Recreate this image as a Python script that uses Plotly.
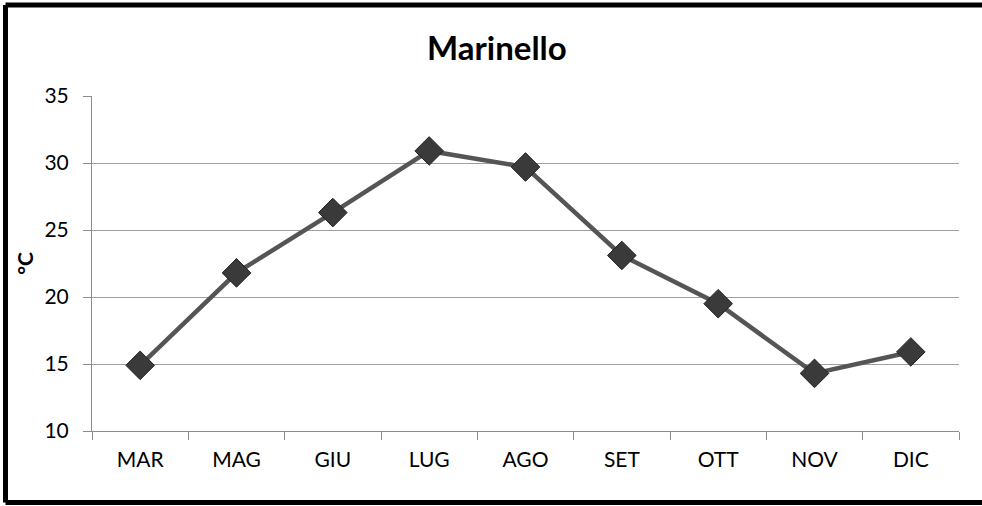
import plotly.graph_objects as go

months = ["MAR", "MAG", "GIU", "LUG", "AGO", "SET", "OTT", "NOV", "DIC"]
temps = [14.9, 21.8, 26.3, 30.9, 29.7, 23.1, 19.5, 14.3, 15.9]
y_ticks = [10, 15, 20, 25, 30, 35]
title_text = "Marinello"
y_title = "°C"

W, H = 982, 506
ml, mr, mt, mb = 92, 23, 96, 75
pw, ph = W - ml - mr, H - mt - mb

def px_x(x):
    return (x - ml) / pw

def px_y(y):
    return (H - mb - y) / ph

border = dict(color="#000000", width=5)
bx0, bx1, by0, by1 = px_x(5.5), px_x(1000), px_y(502.5), px_y(5)

fig = go.Figure()
fig.add_trace(go.Scatter(
    x=months, y=temps, mode="lines+markers",
    line=dict(color="#555555", width=4.5),
    marker=dict(symbol="diamond", size=22, color="#3a3a3a",
                line=dict(color="#222222", width=1)),
    showlegend=False,
))

fig.update_layout(
    width=W, height=H,
    margin=dict(l=ml, r=mr, t=mt, b=mb),
    paper_bgcolor="white", plot_bgcolor="white",
    font=dict(family="Lato, Calibri, sans-serif", color="#000000"),
    title=dict(text="<b>" + title_text + "</b>", x=0.506, xanchor="center",
               y=1 - 48 / H, yanchor="middle",
               font=dict(size=33, color="#000000")),
    xaxis=dict(
        type="category", range=[-0.5, len(months) - 0.5],
        showgrid=False, showline=True, linecolor="#8c8c8c", linewidth=1,
        ticks="outside", tickson="boundaries", ticklen=8, tickcolor="#8c8c8c",
        tickfont=dict(size=21), ticklabelstandoff=10,
    ),
    yaxis=dict(
        range=[10, 35], tickvals=y_ticks,
        showgrid=True, gridcolor="#a0a0a0", gridwidth=1,
        showline=True, linecolor="#8c8c8c", linewidth=1,
        ticks="outside", ticklen=8, tickcolor="#8c8c8c",
        tickfont=dict(size=21), zeroline=False, ticklabelstandoff=10,
        title=dict(text="<b>" + y_title + "</b>", font=dict(size=21), standoff=5),
    ),
    shapes=[
        dict(type="line", xref="paper", yref="paper", x0=bx0, x1=bx1, y0=by1, y1=by1, line=border),
        dict(type="line", xref="paper", yref="paper", x0=bx0, x1=bx1, y0=by0, y1=by0, line=border),
        dict(type="line", xref="paper", yref="paper", x0=bx0, x1=bx0, y0=by0, y1=by1, line=border),
    ],
)

fig.write_html(
    "out.html",
    config={"displayModeBar": False},
    post_script="document.body.style.margin='0';document.body.style.overflow='hidden';",
)
